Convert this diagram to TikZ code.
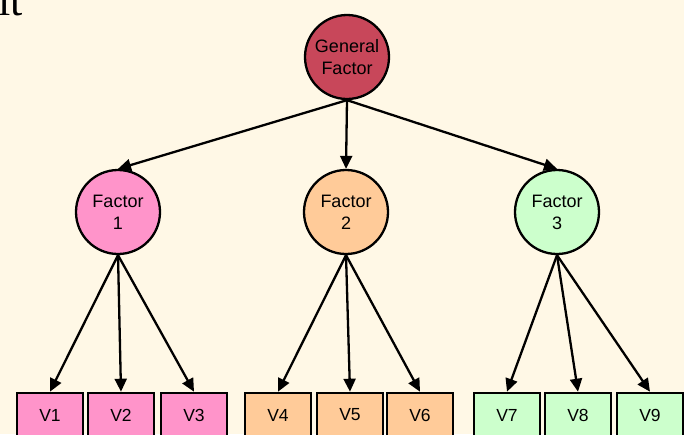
\documentclass[tikz,border=0pt]{standalone}
\usepackage{fontspec}
\setmainfont{Liberation Sans}
\newfontfamily\serifit{Liberation Serif}
\usetikzlibrary{arrows.meta}

\definecolor{bgcream}{HTML}{FFF8E6}
\definecolor{genred}{HTML}{C8475A}
\definecolor{fpink}{HTML}{FF94CA}
\definecolor{forange}{HTML}{FFCB99}
\definecolor{fgreen}{HTML}{CCFFCC}

\tikzset{
  factor/.style={circle, draw=black, line width=2.3pt, minimum size=84pt, inner sep=0pt,
    align=center, font=\fontsize{18}{22}\selectfont},
  var/.style={rectangle, draw=black, line width=2.6pt, minimum width=66pt, minimum height=44pt,
    inner sep=0pt, font=\fontsize{17.5}{20}\selectfont},
  arr/.style={-{Triangle[length=13pt,width=12pt]}, line width=2.3pt}
}

\begin{document}
\begin{tikzpicture}[x=1pt,y=-1pt]

% Page and background
\useasboundingbox (0,0) rectangle (684,434);
\clip (0,0) rectangle (684,434);
\fill [bgcream] (0,0) rectangle (684,434);

% Cut-off text at the top left
\node [font=\serifit\fontsize{44}{44}\selectfont, anchor=base east, inner sep=0pt] (cuttext) at (23,15) {it};

% General factor and the three factors
\node [factor, fill=genred] (gen) at (347,57) {General\\Factor};
\node [factor, fill=fpink] (f1) at (118,212) {Factor\\1};
\node [factor, fill=forange] (f2) at (346,212) {Factor\\2};
\node [factor, fill=fgreen] (f3) at (557,212) {Factor\\3};

% Observed variables
\node [var, fill=fpink] (v1) at (50,415) {V1};
\node [var, fill=fpink] (v2) at (121,415) {V2};
\node [var, fill=fpink] (v3) at (194,415) {V3};
\node [var, fill=forange] (v4) at (278,415) {V4};
\node [var, fill=forange] (v5) at (350,415) {V5};
\node [var, fill=forange] (v6) at (420,415) {V6};
\node [var, fill=fgreen] (v7) at (507,415) {V7};
\node [var, fill=fgreen] (v8) at (578,415) {V8};
\node [var, fill=fgreen] (v9) at (650,415) {V9};

% Arrows from the general factor
\draw [arr] (gen.south) -- (f1.north);
\draw [arr] (gen.south) -- (f2.north);
\draw [arr] (gen.south) -- (f3.north);

% Arrows from each factor to its variables
\draw [arr] (f1.south) -- (v1.north);
\draw [arr] (f1.south) -- (v2.north);
\draw [arr] (f1.south) -- (v3.north);
\draw [arr] (f2.south) -- (v4.north);
\draw [arr] (f2.south) -- (v5.north);
\draw [arr] (f2.south) -- (v6.north);
\draw [arr] (f3.south) -- (v7.north);
\draw [arr] (f3.south) -- (v8.north);
\draw [arr] (f3.south) -- (v9.north);

\end{tikzpicture}
\end{document}
